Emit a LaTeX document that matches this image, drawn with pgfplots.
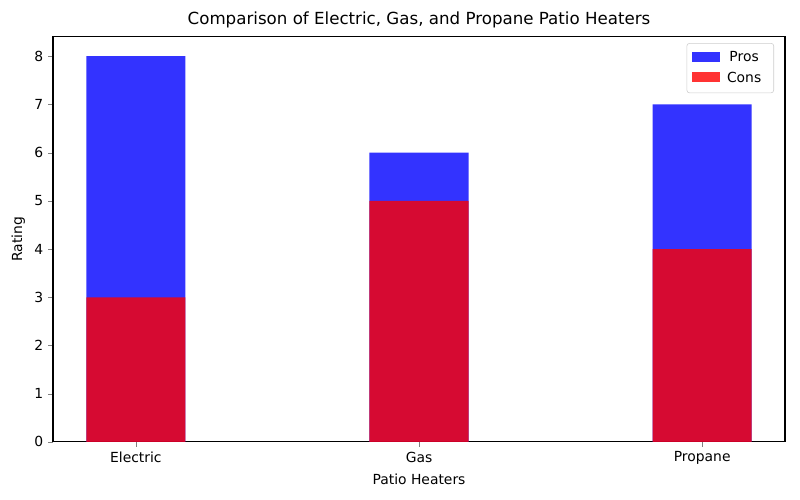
\documentclass[border=0pt]{standalone}
\usepackage{fontspec}
\setmainfont{DejaVu Sans}
\usepackage{pgfplots}
\pgfplotsset{compat=1.18}
\definecolor{prosc}{rgb}{0,0,1}
\definecolor{consc}{rgb}{1,0,0}
\begin{document}
\fontsize{10pt}{12pt}\selectfont
\begin{tikzpicture}
\begin{axis}[name=ax,
  scale only axis, width=527pt, height=291.6pt,
  xmin=-0.2925, xmax=2.2925, ymin=0, ymax=8.4,
  xtick={0,1,2}, xticklabels={Electric,Gas,Propane},
  ytick={0,1,...,8},
  tick pos=left, tick align=outside, major tick length=3.5pt,
  /pgf/number format/assume math mode=true,
  tick label style={font=\fontsize{10pt}{12pt}\selectfont},
  xlabel={Patio Heaters}, ylabel={Rating},
  label style={font=\fontsize{10pt}{12pt}\selectfont},
  title={Comparison of Electric, Gas, and Propane Patio Heaters},
  title style={font=\fontsize{12pt}{14pt}\selectfont, yshift=-3pt},
  axis line style={line width=0.8pt},
  ybar, bar width=0.35, bar shift=0pt,
  area legend,
  legend style={at={(0.985,0.985)}, anchor=north east, draw=black!20, rounded corners=2pt,
    font=\fontsize{10pt}{12pt}\selectfont, row sep=2pt, inner sep=4pt,
    nodes={inner xsep=5pt}},
  legend image code/.code={\fill[#1, sharp corners] (0cm,-0.1cm) rectangle (0.7cm,0.15cm);},
]
\addplot[fill=prosc, fill opacity=0.8, draw=none] coordinates {(0,8) (1,6) (2,7)};
\addlegendentry{Pros}
\addplot[fill=consc, fill opacity=0.8, draw=none] coordinates {(0,3) (1,5) (2,4)};
\addlegendentry{Cons}
\end{axis}
\pgfresetboundingbox
\path (ax.south west) ++(-38.2pt,-41.8pt) coordinate (a);
\path (ax.north east) ++(10.8pt,26.6pt) coordinate (b);
\path (a) rectangle (b);
\end{tikzpicture}
\end{document}
